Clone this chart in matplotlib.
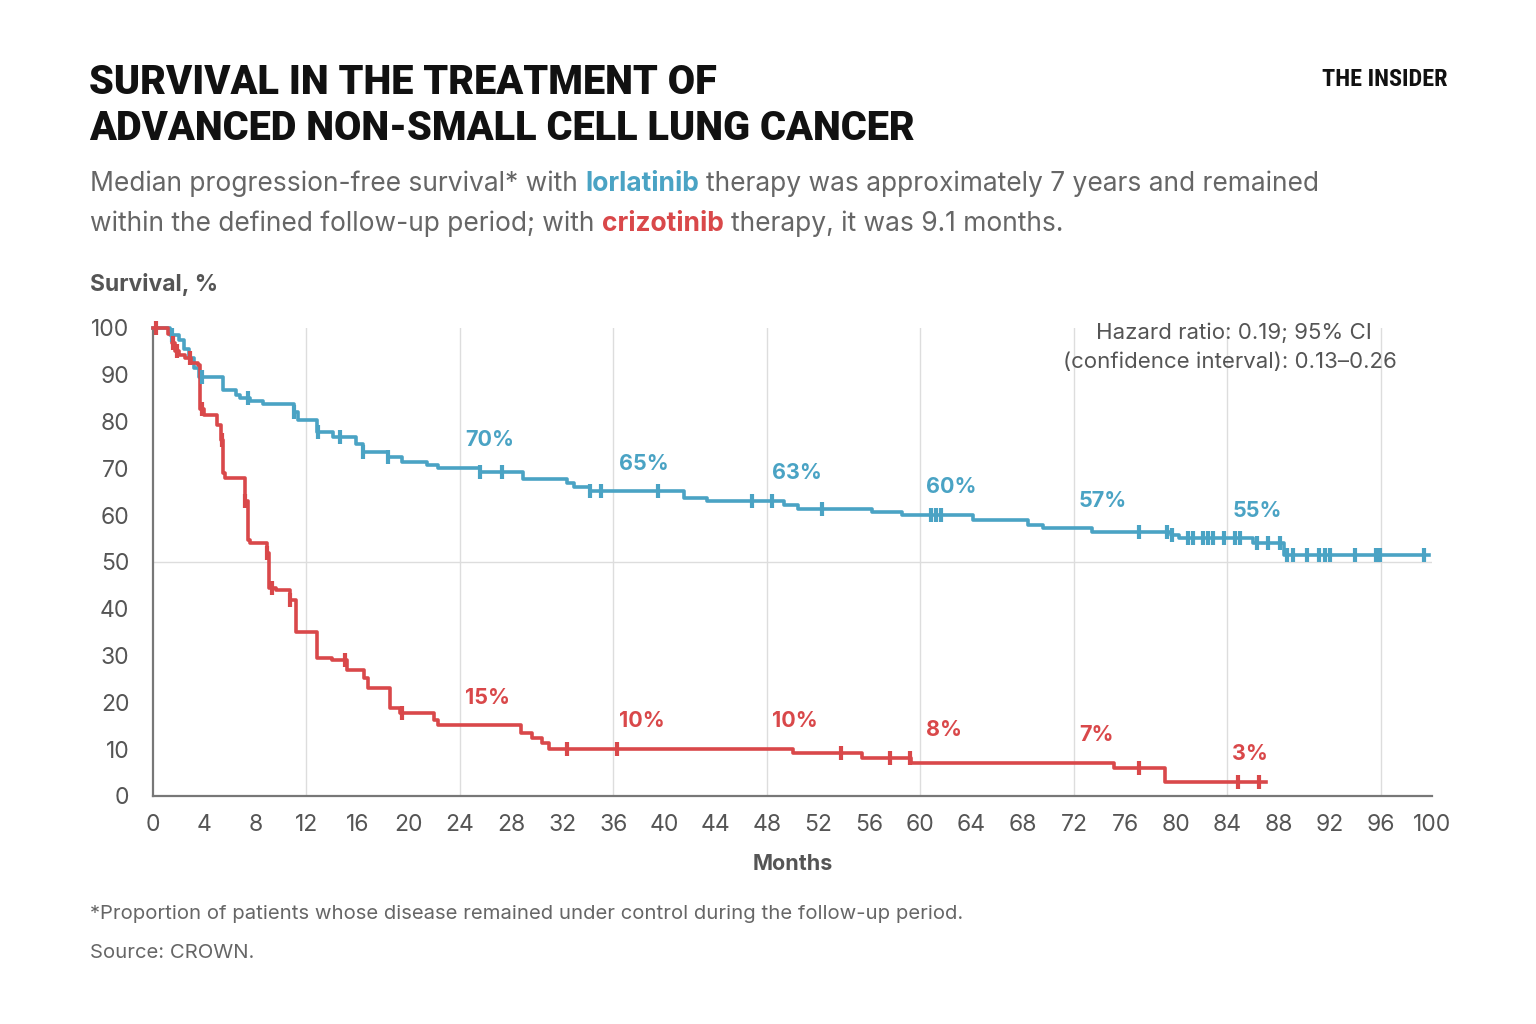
"""Kaplan-Meier style chart: lorlatinib vs crizotinib (CROWN)."""

import matplotlib

matplotlib.use("Agg")

import matplotlib.pyplot as plt
import numpy as np

BLUE = "#4aa3c4"
RED = "#d9484a"
GREY = "#666666"
DARK = "#555555"

BODY_FONT = ["Inter", "DejaVu Sans"]
TITLE_FONT = ["Roboto", "DejaVu Sans"]
LOGO_FONT = ["Roboto Condensed", "Roboto", "DejaVu Sans"]

# lorlatinib step curve (months, % after the step)
lorl_t = [0, 1.3, 2.0, 2.4, 2.8, 3.2, 3.6, 5.5, 6.5, 6.8, 7.6, 8.6, 11.0, 11.3,
          12.8, 14.1, 15.9, 16.4, 18.4, 19.5, 21.4, 22.3, 25.6, 28.9, 32.4,
          32.9, 34.2, 41.5, 43.3, 49.3, 50.4, 56.2, 58.6, 64.1, 68.4, 69.6,
          73.4, 79.6, 80.2, 86.0, 88.4, 99.8]
lorl_s = [100, 98.5, 97.4, 95.5, 93.5, 91.4, 89.5, 86.7, 85.7, 85.0, 84.4, 83.8,
          82.0, 80.3, 77.8, 76.8, 75.3, 73.5, 72.5, 71.4, 70.7, 70.0, 69.3,
          67.7, 66.8, 66.1, 65.2, 63.6, 63.1, 62.2, 61.4, 60.7, 60.0, 59.0,
          57.9, 57.3, 56.4, 55.8, 55.1, 54.0, 51.5, 51.5]
lorl_cens = [1.5, 3.8, 7.4, 11.0, 12.9, 14.6, 16.4, 18.4, 25.6, 27.3, 34.2, 35.0,
             39.5, 46.8, 48.4, 52.3, 60.8, 61.2, 61.6, 77.1, 79.3, 79.7, 80.9,
             81.3, 82.1, 82.5, 82.9, 83.7, 84.6, 85.0, 86.3, 87.2, 88.1, 88.7,
             89.1, 90.2, 91.2, 91.6, 92.0, 94.0, 95.6, 95.9, 99.4]

# crizotinib step curve
criz_t = [0, 1.2, 1.5, 1.7, 2.0, 2.5, 3.0, 3.5, 3.7, 4.0, 5.0, 5.3, 5.5, 5.6,
          7.2, 7.4, 7.6, 8.9, 9.1, 9.6, 10.7, 11.2, 12.8, 14.0, 15.2, 16.5,
          16.8, 18.5, 19.3, 22.0, 22.3, 28.8, 29.6, 30.4, 31.0, 50.0, 55.4,
          59.3, 75.1, 79.1, 87.0]
criz_s = [100, 98.8, 96.8, 95.0, 94.2, 93.5, 92.5, 92.0, 82.7, 81.4, 79.3, 76.0,
          69.0, 67.9, 63.0, 54.7, 54.0, 52.0, 44.4, 44.0, 41.9, 35.0, 29.5,
          29.0, 27.0, 25.2, 23.1, 18.8, 17.7, 16.2, 15.2, 13.5, 12.4, 11.3,
          10.0, 9.2, 8.1, 7.1, 5.9, 3.0, 3.0]
criz_cens = [0.2, 1.6, 1.9, 2.9, 3.8, 5.4, 7.2, 8.9, 9.3, 10.7, 15.0, 19.5,
             32.4, 36.3, 53.8, 57.6, 59.2, 77.1, 84.8, 86.5]

label_months = [24, 36, 48, 60, 72, 84]
lorl_labels = [70, 65, 63, 60, 57, 55]
criz_labels = [15, 10, 10, 8, 7, 3]

x_ticks = list(range(0, 101, 4))
y_ticks = list(range(0, 101, 10))
v_grid = list(range(12, 97, 12))


def step_value(times, values, t):
    idx = np.searchsorted(times, t, side="right") - 1
    return np.asarray(values)[idx]


def fy(px):
    return 1 - px / 1024


def fx(px):
    return px / 1536


def advance(fig, renderer, s, **kw):
    """Horizontal advance of s in pixels (spaces included)."""
    widths = []
    for probe in (s + "a", "a"):
        t = fig.text(0, 0, probe, **kw)
        widths.append(t.get_window_extent(renderer).width)
        t.remove()
    return widths[0] - widths[1]


def rich_text(fig, x_px, y_px, parts, **kw):
    """Draw a line made of differently styled pieces, left to right."""
    renderer = fig.canvas.get_renderer()
    cursor = x_px
    for text, color, weight in parts:
        body = text.lstrip(" ")
        lead = text[: len(text) - len(body)]
        if lead:
            cursor += advance(fig, renderer, lead, fontweight=weight, **kw)
        fig.text(fx(cursor), fy(y_px), body, color=color,
                 fontweight=weight, va="baseline", ha="left", **kw)
        cursor += advance(fig, renderer, body, fontweight=weight, **kw)


fig = plt.figure(figsize=(15.36, 10.24), dpi=100)
fig.patch.set_facecolor("white")

ax = fig.add_axes([fx(153), fy(796), fx(1432) - fx(153), fy(328) - fy(796)])

for x in v_grid:
    ax.axvline(x, color="#dddddd", lw=1, zorder=0)
ax.axhline(50, color="#dddddd", lw=1, zorder=0)

for t, s, cens, color in [(lorl_t, lorl_s, lorl_cens, BLUE),
                          (criz_t, criz_s, criz_cens, RED)]:
    ax.step(t, s, where="post", color=color, lw=2.6, clip_on=False, zorder=3)
    ax.plot(cens, step_value(t, s, cens), ls="none", marker="|", ms=10,
            mew=3, color=color, clip_on=False, zorder=4)

for m, v in zip(label_months, lorl_labels):
    ax.text(m + 0.4, v + 6, f"{v}%", color=BLUE, fontsize=15.5,
            fontweight="bold", ha="left", va="center", family=BODY_FONT)
for m, v in zip(label_months, criz_labels):
    ax.text(m + 0.4, v + 6, f"{v}%", color=RED, fontsize=15.5,
            fontweight="bold", ha="left", va="center", family=BODY_FONT)

ax.set_xlim(0, 100)
ax.set_ylim(0, 100)
ax.set_xticks(x_ticks)
ax.set_yticks(y_ticks)
ax.tick_params(length=0, labelsize=16.5, labelcolor=DARK)
ax.tick_params(axis="x", pad=13)
ax.tick_params(axis="y", pad=17)
for lab in ax.get_xticklabels() + ax.get_yticklabels():
    lab.set_family(BODY_FONT)
for side in ["top", "right"]:
    ax.spines[side].set_visible(False)
for side in ["left", "bottom"]:
    ax.spines[side].set_color("#777777")
    ax.spines[side].set_linewidth(1.6)
ax.set_facecolor("white")

# header
fig.text(fx(89), fy(94), "SURVIVAL IN THE TREATMENT OF", fontsize=28.5,
         fontweight="black", color="#111111", family=TITLE_FONT, va="baseline")
fig.text(fx(89), fy(140), "ADVANCED NON-SMALL CELL LUNG CANCER", fontsize=28.5,
         fontweight="black", color="#111111", family=TITLE_FONT, va="baseline")
fig.text(fx(1448), fy(86), "THE INSIDER", fontsize=17.5, fontweight="black",
         color="#111111", family=LOGO_FONT, ha="right", va="baseline")

rich_text(fig, 90, 191, [
    ("Median progression-free survival* with ", GREY, "normal"),
    ("lorlatinib", BLUE, "bold"),
    (" therapy was approximately 7 years and remained", GREY, "normal"),
], fontsize=19, family=BODY_FONT)
rich_text(fig, 90, 231, [
    ("within the defined follow-up period; with ", GREY, "normal"),
    ("crizotinib", RED, "bold"),
    (" therapy, it was 9.1 months.", GREY, "normal"),
], fontsize=19, family=BODY_FONT)

fig.text(fx(90), fy(285), "Survival, %", fontsize=16.5, fontweight="bold",
         color=DARK, family=BODY_FONT, va="center")
fig.text(fx(793), fy(864), "Months", fontsize=15.5, fontweight="bold",
         color=DARK, family=BODY_FONT, ha="center", va="center")

fig.text(fx(1234), fy(333), "Hazard ratio: 0.19; 95% CI", fontsize=16,
         color=DARK, family=BODY_FONT, ha="center", va="center")
fig.text(fx(1230), fy(362), "(confidence interval): 0.13\u20130.26", fontsize=16,
         color=DARK, family=BODY_FONT, ha="center", va="center")

fig.text(fx(90), fy(914), "*Proportion of patients whose disease remained under "
         "control during the follow-up period.", fontsize=14.6, color=GREY,
         family=BODY_FONT, va="center")
fig.text(fx(90), fy(953), "Source: CROWN.", fontsize=14.6, color=GREY,
         family=BODY_FONT, va="center")

fig.savefig("out.png", dpi=100, facecolor="white")
